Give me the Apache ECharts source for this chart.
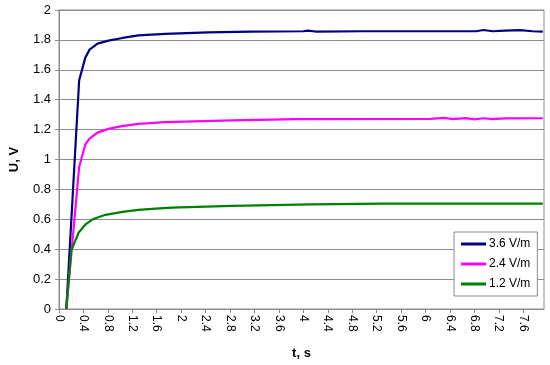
<!DOCTYPE html>
<html>
<head>
<meta charset="utf-8">
<script src="https://cdn.jsdelivr.net/npm/echarts@6/dist/echarts.min.js"></script>
<style>html,body{margin:0;padding:0;background:#fff}#c{width:550px;height:365px}</style>
</head>
<body>
<div id="c"></div>
<script>
// Series data: [t (s), U (V)]
var s36Name = '3.6 V/m';
var s36 = [[0.12,0],[0.33,1.53],[0.43,1.68],[0.5,1.735],[0.63,1.775],[0.81,1.795],[1.04,1.813],[1.3,1.83],[1.74,1.84],[2.44,1.85],[3.15,1.856],[4.0,1.858],[4.07,1.862],[4.2,1.856],[5,1.858],[6,1.858],[6.83,1.858],[6.95,1.866],[7.1,1.858],[7.3,1.862],[7.55,1.866],[7.75,1.858],[7.92,1.856]];
var s24Name = '2.4 V/m';
var s24 = [[0.12,0],[0.33,0.95],[0.43,1.1],[0.5,1.14],[0.63,1.18],[0.81,1.205],[1.03,1.223],[1.3,1.238],[1.74,1.25],[2.83,1.262],[3.9,1.27],[6.08,1.272],[6.3,1.278],[6.45,1.27],[6.65,1.277],[6.8,1.269],[6.95,1.276],[7.1,1.27],[7.3,1.275],[7.92,1.276]];
var s12Name = '1.2 V/m';
var s12 = [[0.12,0],[0.2,0.39],[0.32,0.51],[0.44,0.568],[0.55,0.6],[0.76,0.63],[1.04,0.65],[1.3,0.663],[1.58,0.672],[1.85,0.678],[2.83,0.69],[4.13,0.70],[5.3,0.705],[7.92,0.705]];

var xMin = 0, xMax = 7.94, xStep = 0.4;
var yMin = 0, yMax = 2, yStep = 0.2;
var xName = 't, s', yName = 'U, V';

var FONT = 'Liberation Sans, Arial, sans-serif';
var chart = echarts.init(document.getElementById('c'), null, {renderer: 'canvas'});
function mk(name, data, color) {
  return {name: name, type: 'line', data: data, symbol: 'none', smooth: false,
    lineStyle: {color: color, width: 2.2}, itemStyle: {color: color}, animation: false};
}
chart.setOption({
  animation: false,
  backgroundColor: '#fff',
  textStyle: {fontFamily: FONT},
  grid: {left: 52, right: 6, top: 10, bottom: 52, show: true, borderColor: '#8c8c8c', borderWidth: 1, backgroundColor: '#fff'},
  legend: {
    orient: 'vertical', left: 454, top: 232, padding: [6, 7, 6, 7], itemGap: 8,
    icon: 'rect', itemWidth: 25, itemHeight: 3, backgroundColor: '#fff', borderColor: '#8c8c8c', borderWidth: 1,
    textStyle: {fontFamily: FONT, fontSize: 12, lineHeight: 12, color: '#000', padding: [0, 0, 0, -2]},
    data: [s36Name, s24Name, s12Name]
  },
  xAxis: {
    type: 'value', min: xMin, max: xMax, interval: xStep,
    name: xName, nameLocation: 'middle', nameGap: 38,
    nameTextStyle: {fontFamily: FONT, fontSize: 13, fontWeight: 'bold', color: '#000'},
    axisLine: {show: true, lineStyle: {color: '#8c8c8c'}},
    axisTick: {show: true, length: 4, lineStyle: {color: '#8c8c8c'}},
    axisLabel: {rotate: -90, fontFamily: FONT, fontSize: 12, color: '#000', margin: 6, showMaxLabel: false,
      formatter: function (v) { return String(Math.round(v * 10) / 10); }},
    splitLine: {show: false}
  },
  yAxis: {
    type: 'value', min: yMin, max: yMax, interval: yStep,
    name: yName, nameLocation: 'middle', nameGap: 38,
    nameTextStyle: {fontFamily: FONT, fontSize: 13, fontWeight: 'bold', color: '#000'},
    axisLine: {show: true, lineStyle: {color: '#8c8c8c'}},
    axisTick: {show: true, length: 4, lineStyle: {color: '#8c8c8c'}},
    axisLabel: {fontFamily: FONT, fontSize: 13, color: '#000', margin: 8,
      formatter: function (v) { return String(Math.round(v * 10) / 10); }},
    splitLine: {show: true, lineStyle: {color: '#8c8c8c', width: 1}}
  },
  series: [mk(s36Name, s36, '#000080'), mk(s24Name, s24, '#ff00ff'), mk(s12Name, s12, '#008000')]
});
</script>
</body>
</html>
